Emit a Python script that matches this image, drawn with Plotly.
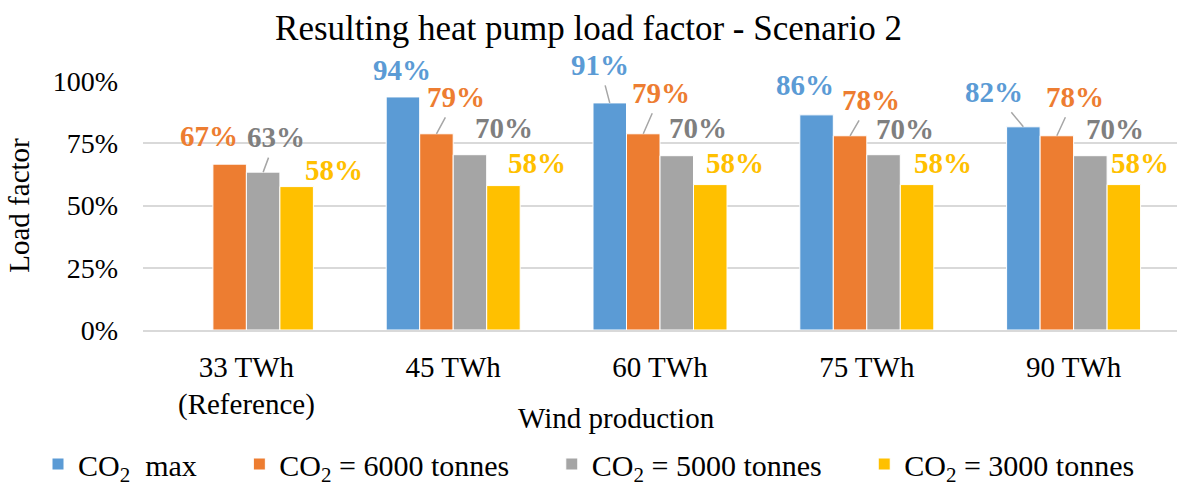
import plotly.graph_objects as go

categories = ["33 TWh<br>(Reference)", "45 TWh", "60 TWh", "75 TWh", "90 TWh"]
series_names = ["CO<sub>2</sub>&nbsp; max", "CO<sub>2</sub> = 6000 tonnes",
                "CO<sub>2</sub> = 5000 tonnes", "CO<sub>2</sub> = 3000 tonnes"]
co2_max = [None, 0.936, 0.912, 0.864, 0.816]
co2_6000 = [0.666, 0.788, 0.788, 0.780, 0.780]
co2_5000 = [0.634, 0.704, 0.700, 0.704, 0.700]
co2_3000 = [0.576, 0.580, 0.584, 0.584, 0.584]
y_ticks = [0, 0.25, 0.5, 0.75, 1.0]
y_tick_labels = ["0%", "25%", "50%", "75%", "100%"]
x_title = "Wind production"

series = [co2_max, co2_6000, co2_5000, co2_3000]
bar_colors = ["#5b9bd5", "#ed7d31", "#a5a5a5", "#ffc000"]
label_colors = ["#5b9bd5", "#ed7d31", "#7f7f7f", "#ffc000"]

# label offsets in pixels (dx, dy) from bar-top centre, and whether a leader line is drawn
label_offsets = [
    [None, (-1, -27), (-10, -38), (-12, -30), (-29, -35)],
    [(-21, -28), (20, -37), (18, -41), (21, -36), (18, -39)],
    [(13, -35), (34, -27), (21, -28), (21, -26), (25, -27)],
    [(37, -17), (34, -23), (25, -22), (26, -22), (16, -22)],
]
leaders = [
    [False, False, True, False, True],
    [False, True, True, True, True],
    [True, False, False, False, False],
    [False, False, False, False, False],
]

FONT = "Liberation Serif, Times New Roman, serif"
PAD = "&nbsp;" * 5
bargap = 0.352
bar_w = (1 - bargap) / 4

fig = go.Figure()
for i, (name, vals) in enumerate(zip(series_names, series)):
    fig.add_trace(go.Bar(
        x=categories, y=vals, name=name + PAD,
        marker=dict(color=bar_colors[i], line=dict(color="white", width=1)),
    ))

annotations = []
for i, vals in enumerate(series):
    off = (i - 1.5) * bar_w
    for g, v in enumerate(vals):
        if v is None:
            continue
        dx, dy = label_offsets[i][g]
        txt = f"<b>{round(v * 100):d}%</b>"
        base = dict(x=g + off, y=v, xref="x", yref="y", text=txt,
                    font=dict(family=FONT, size=29, color=label_colors[i]),
                    xanchor="center", yanchor="middle")
        if leaders[i][g]:
            annotations.append(dict(base, showarrow=True, ax=dx, ay=dy,
                                    arrowhead=0, arrowwidth=1.5,
                                    arrowcolor="#a6a6a6", standoff=0,
                                    borderpad=4))
        else:
            annotations.append(dict(base, showarrow=False, xshift=dx, yshift=-dy))

# x-axis title
annotations.append(dict(text=x_title, xref="paper", yref="paper", x=0.4584, y=-0.352,
                        xanchor="center", yanchor="middle", showarrow=False,
                        font=dict(family=FONT, size=29, color="black")))

fig.update_layout(
    width=1177, height=490,
    margin=dict(l=143, r=0, t=81, b=159),
    paper_bgcolor="white", plot_bgcolor="white",
    barmode="group", bargap=bargap, bargroupgap=0,
    font=dict(family=FONT, size=29, color="black"),
    title=dict(text="Resulting heat pump load factor - Scenario 2",
               font=dict(family=FONT, size=35, color="black"),
               x=0.5, xanchor="center", xref="container", y=0.943, yanchor="middle"),
    legend=dict(orientation="h", x=-0.0773, xanchor="left", y=-0.536, yanchor="middle",
                font=dict(family=FONT, size=30, color="black"),
                itemwidth=30, tracegroupgap=0),
    annotations=annotations,
)
fig.update_xaxes(
    type="category", showgrid=False, showline=True, linecolor="#d9d9d9", linewidth=1.5,
    tickfont=dict(family=FONT, size=29), ticks="", ticklabelstandoff=10,
)
fig.update_yaxes(
    range=[0, 1.0], tickvals=y_ticks, ticktext=y_tick_labels,
    showgrid=True, gridcolor="#d9d9d9", gridwidth=1.5, zeroline=False,
    showline=False, ticks="", ticklabelstandoff=24,
    tickfont=dict(family=FONT, size=28),
    title=dict(text="Load factor", font=dict(family=FONT, size=29), standoff=14),
)

fig.write_html("out.html")
